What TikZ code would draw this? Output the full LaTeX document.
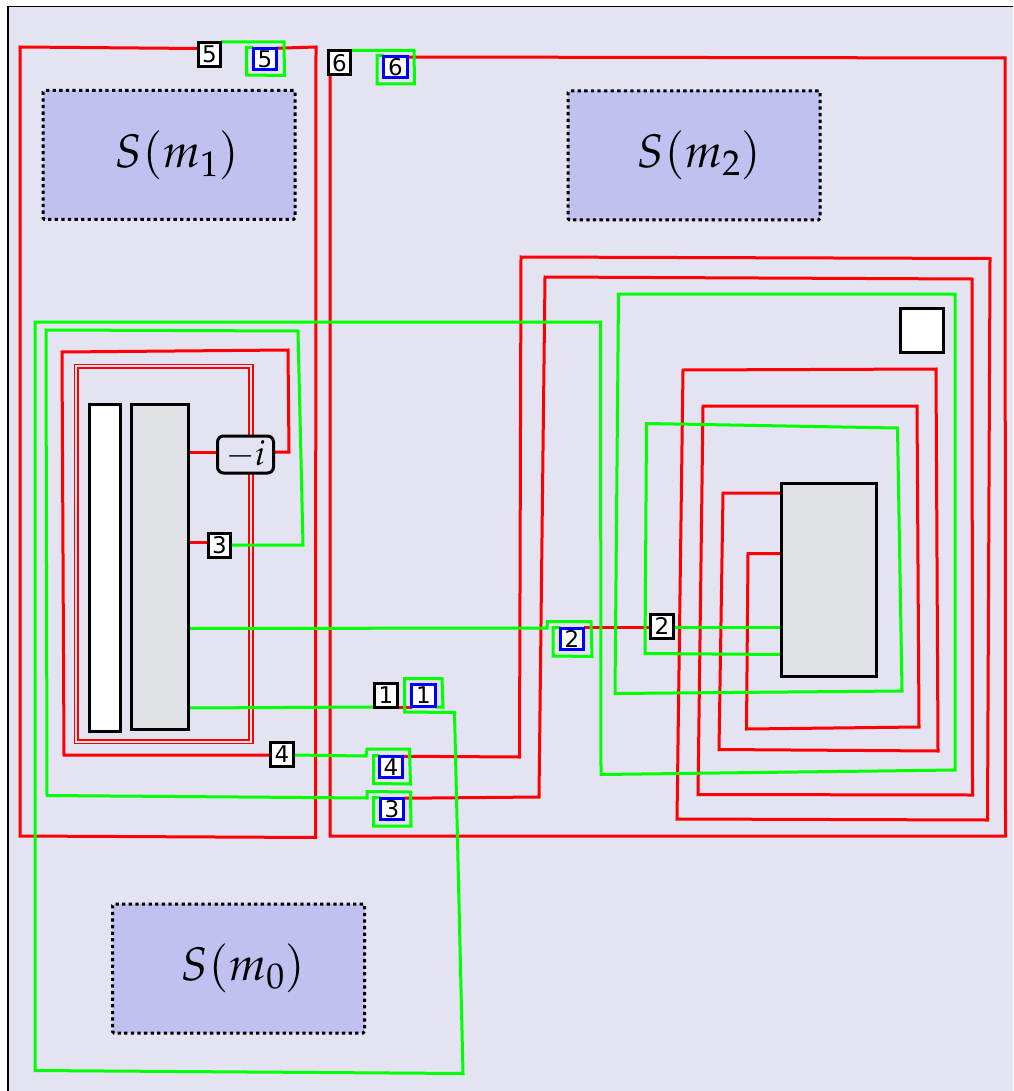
\documentclass[tikz,border=0pt]{standalone}
\usepackage{mathpazo}
\usepackage[no-math]{fontspec}
\setmainfont{DejaVu Sans}
\definecolor{pagebg}{HTML}{E4E3F1}
\definecolor{sfill}{HTML}{C1C1F1}
\definecolor{greybox}{HTML}{E1E2E6}
\definecolor{wred}{HTML}{FF0000}
\definecolor{wgreen}{HTML}{00FF00}
\definecolor{wblue}{HTML}{0000FF}
\pgfdeclarelayer{wires}
\pgfdeclarelayer{base}
\pgfsetlayers{base,wires,main}
\tikzset{
  redwire/.style={draw=wred,line width=3pt,miter limit=10},
  greenwire/.style={draw=wgreen,line width=3pt,miter limit=10},
  thinred/.style={draw=wred,line width=1.3pt},
  numbox/.style={draw=black,fill=white,line width=3pt,inner sep=0pt,outer sep=0pt,
    minimum width=22.5pt,minimum height=24pt,font=\fontsize{23}{23}\selectfont},
  bluebox/.style={draw=wblue,fill=white,line width=3pt,inner sep=0pt,outer sep=0pt,
    minimum width=23.5pt,minimum height=21.5pt,font=\fontsize{23}{23}\selectfont},
  sbox/.style={draw=black,fill=sfill,line width=3pt,dash pattern=on 3.3pt off 3.3pt,
    inner sep=0pt,outer sep=0pt,minimum width=252pt,minimum height=129pt,rounded corners=1.5pt,
    font=\fontsize{47}{47}\selectfont,text=black},
  barbox/.style={draw=black,line width=3pt,inner sep=0pt,outer sep=0pt},
  phasebox/.style={draw=black,fill=pagebg,line width=3pt,rounded corners=6pt,inner sep=0pt,outer sep=0pt,
    minimum width=56pt,minimum height=37pt,font=\fontsize{35}{35}\selectfont},
}
\begin{document}
\begin{tikzpicture}[x=1pt,y=-1pt]
\useasboundingbox (0,0) rectangle (1013,1091);

% ---- nodes
\node[sbox] (s1) at (169,155) {\hspace{16pt}$S(m_1)$};
\node[sbox] (s2) at (694,155.5) {\hspace{10pt}$S(m_2)$};
\node[sbox] (s0) at (238.5,968.5) {\hspace{9pt}$S(m_0)$};

\node[barbox,fill=white,minimum width=31pt,minimum height=327pt] (whitebar) at (104.5,567.5) {};
\node[barbox,fill=greybox,minimum width=57pt,minimum height=325pt] (greybar) at (160,566.5) {};
\node[barbox,fill=greybox,minimum width=95pt,minimum height=193pt] (greyright) at (828.5,579.5) {};
\node[barbox,fill=white,minimum width=43pt,minimum height=44pt] (whitesq) at (921.5,330) {};
\node[phasebox] (phase) at (245.5,454.5) {$-i$};

\node[numbox] (b5) at (209.5,54.5) {5};
\node[numbox] (b6) at (339.5,63) {6};
\node[numbox] (b3) at (219.5,545) {3};
\node[numbox] (b4) at (282,754) {4};
\node[numbox] (b1) at (386,695.5) {1};
\node[numbox] (b2) at (662,626) {2};

\node[bluebox] (q5) at (265,59) {5};
\node[bluebox] (q6) at (395.5,67) {6};
\node[bluebox] (q1) at (423.5,695.5) {1};
\node[bluebox] (q2) at (572,639) {2};
\node[bluebox] (q3) at (392,809) {3};
\node[bluebox] (q4) at (391,767) {4};

% ---- page
\begin{pgfonlayer}{base}
  \fill[white] (0,0) rectangle (1013,1091);
  \fill[pagebg] (8,6.5) rectangle (1013,1091);
  \draw[black,line width=1.6pt] (7.8,1091) -- (7.8,6.5) -- (1013,6.5);
\end{pgfonlayer}

% ---- wires
\begin{pgfonlayer}{wires}
  % thin double loop
  \draw[thinred] (74.5,364.5) rectangle (253,743.5);
  \draw[thinred] (78,368) rectangle (249,740);

  % red: m1 and m2 loops
  \draw[redwire] (q5.north east) -- (316,47) -- (315.5,837.5) -- (20,836) -- (20,47) -- (b5.west |- 0,48.5);
  \draw[redwire] (q6.east |- 0,57) -- (1005,58) -- (1005.5,836) -- (330,836) -- (330,70) -- (b6.south -| 330,0);

  % red: phase loop
  \draw[redwire] (greybar.east |- 0,452) -- (phase.west |- 0,452);
  \draw[redwire] (phase.east |- 0,452) -- (289,452) -- (288,350) -- (62,352) -- (64,755) -- (b4.west |- 0,755);

  % red: long spirals
  \draw[redwire] (q4.north east) -- (519.5,757) -- (521,257) -- (990,258.5) -- (987.5,820) -- (677,819)
     -- (683,370) -- (936,369) -- (938,751) -- (719,749.5) -- (723,493) -- (greyright.west |- 0,493);
  \draw[redwire] (q3.north east) -- (539,797) -- (545,277) -- (972,279) -- (972.5,795) -- (698,794.5)
     -- (703,406) -- (917,406) -- (919,727) -- (746.5,729) -- (748,553.5) -- (greyright.west |- 0,553.5);

  % red: short links
  \draw[redwire] (greybar.east |- 0,542.5) -- (b3.west |- 0,542.5);
  \draw[redwire] (q2.east |- 0,627) -- (b2.west |- 0,627);
  \draw[redwire] (b1.east |- 0,707) -- (q1.west |- 0,707);

  % green
  \draw[greenwire] (b5.east |- 0,42) -- (284,42) -- (284.5,75.5) -- (246.5,75) -- (246.5,47.5) -- (q5.west |- 0,47.5);
  \draw[greenwire] (b6.east |- 0,50.5) -- (414,50.5) -- (414.5,84) -- (377,84) -- (377,55.5) -- (q6.west |- 0,55.5);
  \draw[greenwire] (b3.east) -- (303,545) -- (298,331) -- (46,330) -- (47,795.5) -- (367,798) -- (367,791.5)
     -- (410.5,792) -- (411,826) -- (373.5,826) -- (373.5,797.5) -- (q3.west |- 0,797.5);
  \draw[greenwire] (b4.east |- 0,755) -- (366,756) -- (367,749) -- (409.5,749) -- (410.5,784) -- (373.5,783.5)
     -- (373.5,755.5) -- (q4.west |- 0,755.5);
  \draw[greenwire] (greybar.east |- 0,628.5) -- (547,628) -- (547.5,621.5) -- (591,621.5) -- (592,656.5)
     -- (553,656) -- (553,627.5) -- (q2.west |- 0,627.5);
  \draw[greenwire] (greybar.east |- 0,708) -- (b1.west |- 0,707);
  \draw[greenwire] (q1.east |- 0,707) -- (443,707) -- (442,678.5) -- (404.5,678.5) -- (404.5,712) -- (454.5,712.5)
     -- (463,1073.5) -- (35,1070.5) -- (35,322) -- (600.5,322) -- (601,774.5) -- (955,770) -- (955,294)
     -- (618.5,294) -- (615,693.5) -- (902,691) -- (897.5,428) -- (646.5,423.5) -- (645,653.5) -- (greyright.west |- 0,654.5);
  \draw[greenwire] (b2.east |- 0,627) -- (greyright.west |- 0,627);
\end{pgfonlayer}
\end{tikzpicture}
\end{document}
